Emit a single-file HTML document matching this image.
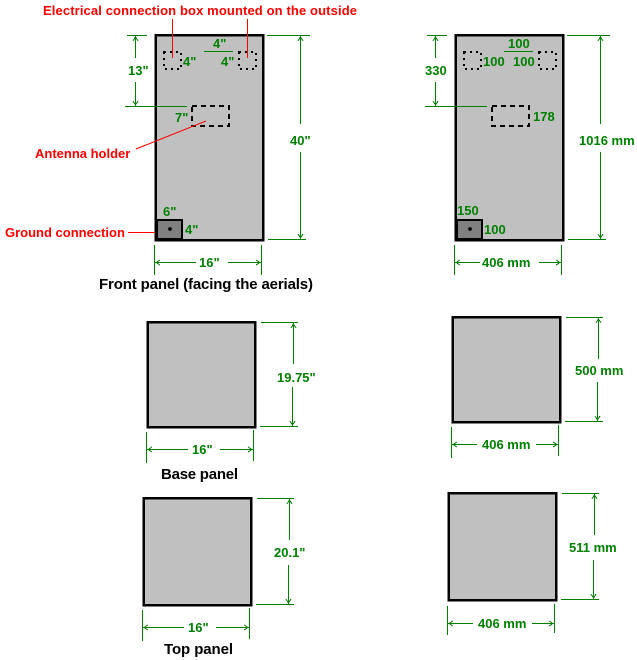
<!DOCTYPE html>
<html><head><meta charset="utf-8"><style>
html,body{margin:0;padding:0;background:#fff;}
svg{display:block;}
text{font-family:"Liberation Sans",Arial,sans-serif;font-weight:bold;font-size:13px;}
.g{fill:#008000;}
.r{fill:#ff0000;}
.k{fill:#000;font-size:15px;}
</style></head><body>
<svg width="637" height="660" viewBox="0 0 637 660" xmlns="http://www.w3.org/2000/svg" shape-rendering="crispEdges">
<g stroke="#000" stroke-width="2.5" fill="#c0c0c0">
<rect x="155.5" y="35" width="107.5" height="205"/>
<rect x="455.5" y="35" width="107.5" height="205"/>
<rect x="147.5" y="322" width="107.5" height="105"/>
<rect x="143.5" y="498" width="107.5" height="107"/>
<rect x="452.5" y="317" width="107.5" height="105"/>
<rect x="448.5" y="493" width="107.5" height="107"/>
</g>
<g fill="none" stroke="#000" stroke-width="2" stroke-dasharray="2 4">
<rect x="164" y="52" width="17" height="17"/>
<rect x="239" y="52" width="17" height="17"/>
<rect x="464" y="52" width="17" height="17"/>
<rect x="539" y="52" width="17" height="17"/>
</g>
<g fill="none" stroke="#000" stroke-width="2" stroke-dasharray="5 4">
<rect x="192" y="106" width="37" height="20"/>
<rect x="492" y="106" width="37" height="20"/>
</g>
<g stroke="#000" stroke-width="2" fill="#808080">
<rect x="157" y="220" width="25" height="19"/>
<rect x="457" y="220" width="25" height="19"/>
</g>
<circle cx="170" cy="229" r="1.8" fill="#000"/>
<circle cx="470" cy="229" r="1.8" fill="#000"/>
<g stroke="#ff0000" stroke-width="1">
<line x1="172.5" y1="19" x2="172.5" y2="58"/>
<line x1="247.5" y1="19" x2="247.5" y2="58"/>
<line x1="136" y1="149" x2="206" y2="121" shape-rendering="auto"/>
<line x1="128" y1="232.5" x2="155" y2="232.5"/>
</g>
<g stroke="#008000" stroke-width="1" fill="none">
<line x1="204" y1="51.5" x2="233" y2="51.5"/>
<line x1="127" y1="35.5" x2="147" y2="35.5"/>
<line x1="125" y1="106.5" x2="187" y2="106.5"/>
<line x1="135.5" y1="36" x2="135.5" y2="58"/><line x1="135.5" y1="82" x2="135.5" y2="106"/>
<polyline points="133,41 135.5,37 138,41"/><polyline points="133,101 135.5,105 138,101"/>
<line x1="267" y1="35.5" x2="310" y2="35.5"/>
<line x1="268" y1="239.5" x2="306" y2="239.5"/>
<line x1="300.5" y1="36" x2="300.5" y2="124"/><line x1="300.5" y1="152" x2="300.5" y2="239"/>
<polyline points="298,41 300.5,37 303,41"/><polyline points="298,234 300.5,238 303,234"/>
<line x1="154.5" y1="245" x2="154.5" y2="275"/><line x1="261.5" y1="245" x2="261.5" y2="275"/>
<line x1="155" y1="262.5" x2="196" y2="262.5"/><line x1="228" y1="262.5" x2="261" y2="262.5"/>
<polyline points="160,260 156,262.5 160,265"/><polyline points="256,260 260,262.5 256,265"/>
<line x1="504" y1="51.5" x2="533" y2="51.5"/>
<line x1="427" y1="35.5" x2="447" y2="35.5"/>
<line x1="425" y1="106.5" x2="487" y2="106.5"/>
<line x1="435.5" y1="36" x2="435.5" y2="58"/><line x1="435.5" y1="82" x2="435.5" y2="106"/>
<polyline points="433,41 435.5,37 438,41"/><polyline points="433,101 435.5,105 438,101"/>
<line x1="567" y1="35.5" x2="610" y2="35.5"/>
<line x1="568" y1="239.5" x2="606" y2="239.5"/>
<line x1="600.5" y1="36" x2="600.5" y2="124"/><line x1="600.5" y1="152" x2="600.5" y2="239"/>
<polyline points="598,41 600.5,37 603,41"/><polyline points="598,234 600.5,238 603,234"/>
<line x1="454.5" y1="245" x2="454.5" y2="275"/><line x1="561.5" y1="245" x2="561.5" y2="275"/>
<line x1="455" y1="262.5" x2="480" y2="262.5"/><line x1="539" y1="262.5" x2="561" y2="262.5"/>
<polyline points="460,260 456,262.5 460,265"/><polyline points="556,260 560,262.5 556,265"/>
<line x1="261" y1="322.5" x2="298" y2="322.5"/><line x1="260" y1="426.5" x2="298" y2="426.5"/>
<line x1="293.5" y1="323" x2="293.5" y2="364"/><line x1="292.5" y1="387" x2="292.5" y2="426"/>
<polyline points="291,328 293.5,324 296,328"/><polyline points="290,421 292.5,425 295,421"/>
<line x1="146.5" y1="432" x2="146.5" y2="463"/><line x1="253.5" y1="430" x2="253.5" y2="461"/>
<line x1="147" y1="449.5" x2="188" y2="449.5"/><line x1="220" y1="449.5" x2="253" y2="449.5"/>
<polyline points="152,447 148,449.5 152,452"/><polyline points="248,447 252,449.5 248,452"/>
<line x1="257" y1="498.5" x2="294" y2="498.5"/><line x1="256" y1="604.5" x2="294" y2="604.5"/>
<line x1="289.5" y1="499" x2="289.5" y2="540"/><line x1="288.5" y1="565" x2="288.5" y2="604"/>
<polyline points="287,504 289.5,500 292,504"/><polyline points="286,599 288.5,603 291,599"/>
<line x1="142.5" y1="610" x2="142.5" y2="641"/><line x1="249.5" y1="608" x2="249.5" y2="639"/>
<line x1="143" y1="627.5" x2="184" y2="627.5"/><line x1="216" y1="627.5" x2="249" y2="627.5"/>
<polyline points="148,625 144,627.5 148,630"/><polyline points="244,625 248,627.5 244,630"/>
<line x1="566" y1="317.5" x2="603" y2="317.5"/><line x1="565" y1="421.5" x2="603" y2="421.5"/>
<line x1="598.5" y1="318" x2="598.5" y2="359"/><line x1="597.5" y1="382" x2="597.5" y2="421"/>
<polyline points="596,323 598.5,319 601,323"/><polyline points="595,416 597.5,420 600,416"/>
<line x1="451.5" y1="427" x2="451.5" y2="458"/><line x1="558.5" y1="425" x2="558.5" y2="456"/>
<line x1="452" y1="444.5" x2="477" y2="444.5"/><line x1="536" y1="444.5" x2="558" y2="444.5"/>
<polyline points="457,442 453,444.5 457,447"/><polyline points="553,442 557,444.5 553,447"/>
<line x1="562" y1="493.5" x2="599" y2="493.5"/><line x1="561" y1="599.5" x2="599" y2="599.5"/>
<line x1="594.5" y1="494" x2="594.5" y2="535"/><line x1="593.5" y1="560" x2="593.5" y2="599"/>
<polyline points="592,499 594.5,495 597,499"/><polyline points="591,594 593.5,598 596,594"/>
<line x1="447.5" y1="606" x2="447.5" y2="635"/><line x1="554.5" y1="604" x2="554.5" y2="633"/>
<line x1="448" y1="623.5" x2="473" y2="623.5"/><line x1="532" y1="623.5" x2="554" y2="623.5"/>
<polyline points="453,621 449,623.5 453,626"/><polyline points="549,621 553,623.5 549,626"/>
</g>
<text class="r" x="43" y="15" textLength="314" lengthAdjust="spacing">Electrical connection box mounted on the outside</text>
<text class="r" x="35" y="158">Antenna holder</text>
<text class="r" x="5" y="237">Ground connection</text>
<text class="g" x="213" y="48">4"</text>
<text class="g" x="183" y="66">4"</text>
<text class="g" x="221" y="66">4"</text>
<text class="g" x="128" y="75">13"</text>
<text class="g" x="175" y="122">7"</text>
<text class="g" x="290" y="145">40"</text>
<text class="g" x="163" y="216">6"</text>
<text class="g" x="185" y="234">4"</text>
<text class="g" x="199" y="267">16"</text>
<text class="k" x="99" y="289" textLength="214" lengthAdjust="spacing">Front panel (facing the aerials)</text>
<text class="g" x="508" y="48">100</text>
<text class="g" x="483" y="66">100</text>
<text class="g" x="513" y="66">100</text>
<text class="g" x="425" y="75">330</text>
<text class="g" x="533" y="121">178</text>
<text class="g" x="579" y="145">1016 mm</text>
<text class="g" x="457" y="215">150</text>
<text class="g" x="484" y="234">100</text>
<text class="g" x="482" y="267">406 mm</text>
<text class="g" x="277" y="382">19.75"</text>
<text class="g" x="192" y="454">16"</text>
<text class="k" x="161" y="479" textLength="77" lengthAdjust="spacing">Base panel</text>
<text class="g" x="274" y="557">20.1"</text>
<text class="g" x="188" y="632">16"</text>
<text class="k" x="164" y="654" textLength="69" lengthAdjust="spacing">Top panel</text>
<text class="g" x="575" y="375">500 mm</text>
<text class="g" x="482" y="449">406 mm</text>
<text class="g" x="569" y="552">511 mm</text>
<text class="g" x="478" y="628">406 mm</text>
</svg>
</body></html>
